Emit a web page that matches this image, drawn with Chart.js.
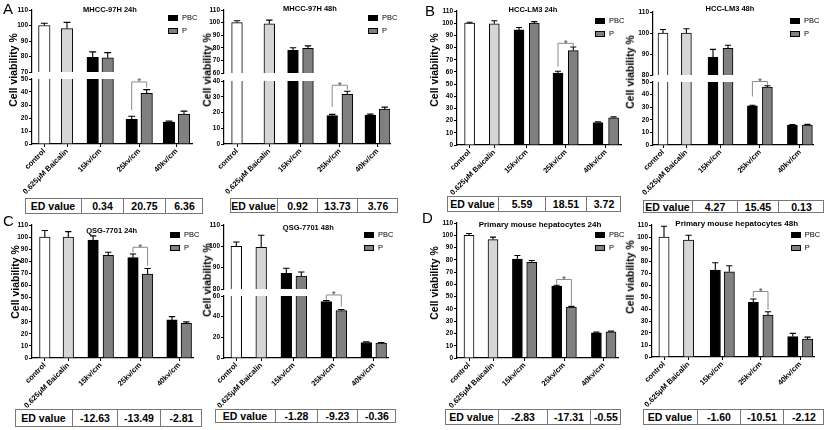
<!DOCTYPE html>
<html><head><meta charset="utf-8">
<script src="https://cdn.jsdelivr.net/npm/chart.js@4.4.1/dist/chart.umd.min.js"></script>
<style>
html,body{margin:0;padding:0;background:#fff;}
#fig{position:relative;width:825px;height:430px;overflow:hidden;background:#fff;font-family:"Liberation Sans",Arial,sans-serif;}
#fig canvas{position:absolute;}
.t{position:absolute;white-space:nowrap;color:#000;line-height:1;}
.tbl{position:absolute;box-sizing:border-box;border:1px solid #777;background:#fff;}
.cell{position:absolute;top:0;bottom:0;box-sizing:border-box;display:flex;align-items:center;justify-content:center;font-weight:bold;font-size:10.5px;color:#000;}
.box{position:absolute;box-sizing:border-box;border:1px solid #000;width:10px;height:6px;}
</style>
</head><body><div id="fig"></div>
<script>
// ================= DATA =================
const categories = ['control', '0.625\u03bcM Baicalin', '15kv/cm', '25kv/cm', '40kv/cm'];
const groupNames = ['PBC', 'P'];
const tableHeader = 'ED value';
const yAxisTitle = 'Cell viability %';
const panelTitles = ['MHCC-97H 24h', 'MHCC-97H 48h', 'HCC-LM3 24h', 'HCC-LM3 48h',
  'QSG-7701 24h', 'QSG-7701 48h', 'Primary mouse hepatocytes 24h', 'Primary mouse hepatocytes 48h'];

// [control, 0.625uM Baicalin] ; PBC / P for 15, 25, 40 kv/cm ; errors = upper SEM
const mhcc24Ctrl = [100, 98];      const mhcc24CtrlErr = [1.5, 4];
const mhcc24PBC = [79.5, 19, 16.8]; const mhcc24PBCErr = [3.5, 2.3, 0.8];
const mhcc24P = [79.2, 39, 23];     const mhcc24PErr = [3.3, 2.8, 2.3];
const mhcc24Sig = [47.7, 26, 43.4];           // bracket level, left end, right end
const mhcc24ED = ['0.34', '20.75', '6.36'];
const mhcc24Axis = [[70, 110, 10], [0, 50, 10]];

const mhcc48Ctrl = [100, 99];       const mhcc48CtrlErr = [1.5, 3];
const mhcc48PBC = [78, 18, 18.3];   const mhcc48PBCErr = [2, 0.8, 0.7];
const mhcc48P = [79.5, 31.5, 22.2]; const mhcc48PErr = [2, 2, 1.2];
const mhcc48Sig = [37.3, 23.6, 34.6];
const mhcc48ED = ['0.92', '13.73', '3.76'];
const mhcc48Axis = [[60, 110, 10], [0, 40, 10]];

const lm324Ctrl = [100, 99.5];      const lm324CtrlErr = [0.8, 2.5];
const lm324PBC = [94.5, 59, 18.5];  const lm324PBCErr = [2, 1.5, 0.5];
const lm324P = [100, 77.5, 22.3];   const lm324PErr = [1.3, 3, 0.8];
const lm324Sig = [83.5, 64.3, 81];
const lm324ED = ['5.59', '18.51', '3.72'];
const lm324Axis = [[0, 110, 10]];

const lm348Ctrl = [100, 100];       const lm348CtrlErr = [1.7, 2];
const lm348PBC = [88.5, 31, 15.8];  const lm348PBCErr = [3.7, 0.6, 0.5];
const lm348P = [92.7, 46, 15.8];    const lm348PErr = [1.5, 1, 0.6];
const lm348Sig = [50.4, 38.5, 47.8];
const lm348ED = ['4.27', '15.45', '0.13'];
const lm348Axis = [[80, 110, 10], [0, 50, 10]];

const qsg24Ctrl = [100, 100];       const qsg24CtrlErr = [5.5, 4.5];
const qsg24PBC = [97.5, 83, 31.5];  const qsg24PBCErr = [3.5, 3, 2.7];
const qsg24P = [85, 69.5, 28.7];    const qsg24PErr = [2.5, 4.5, 1.2];
const qsg24Sig = [91.6, 87.1, 76.2];
const qsg24ED = ['-12.63', '-13.49', '-2.81'];
const qsg24Axis = [[0, 110, 10]];

const qsg48Ctrl = [100, 99.5];      const qsg48CtrlErr = [2, 5.7];
const qsg48PBC = [87.3, 54.5, 15];  const qsg48PBCErr = [2.4, 1, 0.6];
const qsg48P = [86, 45.8, 14.5];    const qsg48PErr = [2, 1.2, 0.5];
const qsg48Sig = [61, 56.2, 49.7];
const qsg48ED = ['-1.28', '-9.23', '-0.36'];
const qsg48Axis = [[80, 110, 10], [0, 60, 20]];

const hep24Ctrl = [100, 96.5];      const hep24CtrlErr = [1.4, 2];
const hep24PBC = [80.5, 58.5, 20.5]; const hep24PBCErr = [3, 0.8, 0.6];
const hep24P = [78, 41.5, 21.3];    const hep24PErr = [1.4, 0.6, 0.6];
const hep24Sig = [64, 60, 42.8];
const hep24ED = ['-2.83', '-17.31', '-0.55'];
const hep24Axis = [[0, 110, 10]];

const hep48Ctrl = [100, 97.5];      const hep48CtrlErr = [9, 4];
const hep48PBC = [72.5, 45.5, 17];  const hep48PBCErr = [6, 2.8, 2.7];
const hep48P = [71, 35, 15];        const hep48PErr = [5, 2.7, 1.6];
const hep48Sig = [54.6, 49.9, 39.3];
const hep48ED = ['-1.60', '-10.51', '-2.12'];
const hep48Axis = [[0, 110, 10]];

const panelData = [
  [mhcc24Ctrl, mhcc24CtrlErr, mhcc24PBC, mhcc24PBCErr, mhcc24P, mhcc24PErr, mhcc24Sig, mhcc24ED, mhcc24Axis],
  [mhcc48Ctrl, mhcc48CtrlErr, mhcc48PBC, mhcc48PBCErr, mhcc48P, mhcc48PErr, mhcc48Sig, mhcc48ED, mhcc48Axis],
  [lm324Ctrl, lm324CtrlErr, lm324PBC, lm324PBCErr, lm324P, lm324PErr, lm324Sig, lm324ED, lm324Axis],
  [lm348Ctrl, lm348CtrlErr, lm348PBC, lm348PBCErr, lm348P, lm348PErr, lm348Sig, lm348ED, lm348Axis],
  [qsg24Ctrl, qsg24CtrlErr, qsg24PBC, qsg24PBCErr, qsg24P, qsg24PErr, qsg24Sig, qsg24ED, qsg24Axis],
  [qsg48Ctrl, qsg48CtrlErr, qsg48PBC, qsg48PBCErr, qsg48P, qsg48PErr, qsg48Sig, qsg48ED, qsg48Axis],
  [hep24Ctrl, hep24CtrlErr, hep24PBC, hep24PBCErr, hep24P, hep24PErr, hep24Sig, hep24ED, hep24Axis],
  [hep48Ctrl, hep48CtrlErr, hep48PBC, hep48PBCErr, hep48P, hep48PErr, hep48Sig, hep48ED, hep48Axis]
];

// ================= LAYOUT (pixels) =================
const FF = '"Liberation Sans", Arial, sans-serif';
const LAYOUT = [
  {letter:'A', lp:[3,1], ox:32, xEnd:192, segs:[[10,72.3],[78.7,144]], bars:[12.3,35,60.7,75.7,99.7,114.7,137,152], bw:11.5,
   title:[110,10,7.5], ylab:[13,70], legend:[168,15], table:[[25,81,123,165,203],198,214]},
  {ox:224, xEnd:390, segs:[[10,73.3],[80.7,144]], bars:[13,45.3,69,84,108.2,123.3,146.3,160.7], bw:10.7,
   title:[310,9,7.5], ylab:[207,70], legend:[368,15], table:[[230,277,317,357,398],198,213]},
  {letter:'B', lp:[425,3], ox:456.7, xEnd:621, segs:[[11,145]], bars:[12.6,37.3,62,77.3,101,116.3,141,156.6], bw:10,
   title:[533,10,7.5], ylab:[434,70], legend:[595,18], table:[[447,498,545,586,621],196,212]},
  {ox:653.3, xEnd:814, segs:[[11.7,75],[82.3,145]], bars:[10,33.4,60,75,99.4,114.4,139.4,154.4], bw:10,
   title:[730,9,7.5], ylab:[630,72], legend:[790,18], table:[[643,692,737,778,824],200,213]},
  {letter:'C', lp:[3,213], ox:31.7, xEnd:193, segs:[[225,358.3]], bars:[12.8,36.3,61.1,76.3,101,115.6,140,154.3], bw:10.5,
   title:[111.7,231,7.5], ylab:[15,282], legend:[170,232], table:[[15,72,117,160,202],409,427]},
  {ox:224, xEnd:388, segs:[[225,289],[296,358.3]], bars:[12.3,37.2,62.3,77.3,102.3,117.3,142.3,157.2], bw:10.7,
   title:[308.3,228,7.5], ylab:[207,280], legend:[364,232], table:[[215,275,317,357,396],409,423]},
  {letter:'D', lp:[422,210], ox:457.3, xEnd:619, segs:[[223,357.7]], bars:[12,36,60.4,74.7,99.7,114.4,139.4,154], bw:10,
   title:[540,225,8], ylab:[434,283], legend:[595,232], table:[[445,498,547,590,621],409,425]},
  {ox:651.7, xEnd:814, segs:[[225,357.3]], bars:[12,36.6,63.3,77.3,101.3,116,140.8,155.6], bw:10.3,
   title:[736.7,224,8], ylab:[630,277], legend:[790.7,232], table:[[643,697,740,783,824],409,425]}
];

const fig = document.getElementById('fig');
function addText(txt, css) {
  const d = document.createElement('div');
  d.className = 't'; d.textContent = txt;
  Object.assign(d.style, css);
  fig.appendChild(d);
  return d;
}

const errPlugin = {
  id: 'errBars',
  afterDatasetsDraw(chart) {
    const {ctx, chartArea: a} = chart;
    const y = chart.scales.y;
    ctx.save();
    ctx.beginPath();
    ctx.rect(a.left - 3, a.top - 0.5, a.right - a.left + 6, a.bottom - a.top + 0.5);
    ctx.clip();
    ctx.strokeStyle = '#000';
    ctx.lineWidth = 1.1;
    chart.data.datasets.forEach((ds, di) => {
      const meta = chart.getDatasetMeta(di);
      meta.data.forEach((bar, i) => {
        const v = ds.data[i].y, e = ds.errs[i];
        const y0 = y.getPixelForValue(v), y1 = y.getPixelForValue(v + e);
        const cw = bar.width * 0.6;
        ctx.beginPath();
        ctx.moveTo(bar.x, y0); ctx.lineTo(bar.x, y1);
        ctx.moveTo(bar.x - cw / 2, y1); ctx.lineTo(bar.x + cw / 2, y1);
        ctx.stroke();
      });
    });
    ctx.restore();
  }
};

function bracketPlugin(sig) {
  return {
    id: 'sigBracket',
    afterDraw(chart) {
      const {ctx} = chart;
      const y = chart.scales.y;
      const xl = chart.getDatasetMeta(2).data[1].x;
      const xr = chart.getDatasetMeta(3).data[1].x;
      const yt = y.getPixelForValue(sig[0]);
      const yl = y.getPixelForValue(sig[1]);
      const yr = y.getPixelForValue(sig[2]);
      ctx.save();
      ctx.strokeStyle = '#8a8a8a';
      ctx.lineWidth = 1;
      ctx.beginPath();
      ctx.moveTo(xl, yl); ctx.lineTo(xl, yt); ctx.lineTo(xr, yt); ctx.lineTo(xr, yr);
      ctx.stroke();
      ctx.fillStyle = '#6e6e6e';
      ctx.font = 'bold 9px ' + FF;
      ctx.textAlign = 'center';
      ctx.textBaseline = 'alphabetic';
      ctx.fillText('*', (xl + xr) / 2, yt + 2.5);
      ctx.restore();
    }
  };
}

const LEFTW = 40, PADT = 10, XH = 62;

panelData.forEach((pd, k) => {
  const [ctrl, ctrlErr, pbc, pbcErr, pv, pErr, sig, ed, axes] = pd;
  const L = LAYOUT[k];
  const plotW = L.xEnd - L.ox;
  const b = L.bars;
  const tickPos = [b[0], b[1], (b[2] + b[3]) / 2, (b[4] + b[5]) / 2, (b[6] + b[7]) / 2];

  axes.forEach((ax, s) => {
    const isBottom = s === axes.length - 1;
    const [top, bottom] = L.segs[s];
    const plotH = bottom - top;
    const padB = isBottom ? 0 : 6;
    const w = Math.ceil(LEFTW + plotW + 10);
    const padR = w - LEFTW - plotW;
    const h = Math.round(PADT + plotH + padB + (isBottom ? XH : 0));
    const cv = document.createElement('canvas');
    cv.width = w; cv.height = h;
    cv.style.left = (L.ox - LEFTW) + 'px';
    cv.style.top = (top - PADT) + 'px';
    cv.style.width = w + 'px'; cv.style.height = h + 'px';
    fig.appendChild(cv);

    const common = {borderColor: '#000', borderWidth: 1, barThickness: L.bw, grouped: false, clip: 0};
    const datasets = [
      Object.assign({label: categories[0], data: [{x: b[0], y: ctrl[0]}], errs: [ctrlErr[0]], backgroundColor: '#ffffff'}, common),
      Object.assign({label: categories[1], data: [{x: b[1], y: ctrl[1]}], errs: [ctrlErr[1]], backgroundColor: '#d6d6d6'}, common),
      Object.assign({label: groupNames[0], data: pbc.map((v, i) => ({x: b[2 + 2 * i], y: v})), errs: pbcErr, backgroundColor: '#000000'}, common),
      Object.assign({label: groupNames[1], data: pv.map((v, i) => ({x: b[3 + 2 * i], y: v})), errs: pErr, backgroundColor: '#808080'}, common)
    ];

    new Chart(cv, {
      type: 'bar',
      data: {datasets},
      options: {
        responsive: false, animation: false, events: [],
        layout: {padding: {top: PADT, right: padR, bottom: padB, left: 0}},
        plugins: {legend: {display: false}, tooltip: {enabled: false}},
        scales: {
          x: {
            type: 'linear', min: 0, max: plotW, bounds: 'data', offset: false, display: isBottom,
            afterBuildTicks: a => { a.ticks = tickPos.map(v => ({value: v})); },
            afterFit: a => { a.height = isBottom ? XH : 0; },
            grid: {display: true, drawOnChartArea: false, drawTicks: true, tickLength: 3, color: '#000', lineWidth: 1, offset: false},
            border: {display: true, color: '#000', width: 1.2},
            ticks: {autoSkip: false, maxRotation: 45, minRotation: 45, padding: 0, color: '#000',
              font: {family: FF, size: 7.5, weight: 'bold'}, callback: (v, i) => categories[i]}
          },
          y: {
            type: 'linear', min: ax[0], max: ax[1],
            afterFit: a => { a.width = LEFTW; },
            grid: {display: true, drawOnChartArea: false, drawTicks: true, tickLength: 3, color: '#000', lineWidth: 1},
            border: {display: true, color: '#000', width: 1.2},
            ticks: {stepSize: ax[2], padding: 1, color: '#000', font: {family: FF, size: 6.5, weight: 'bold'}}
          }
        }
      },
      plugins: isBottom ? [errPlugin, bracketPlugin(sig)] : [errPlugin]
    });
  });

  addText(panelTitles[k], {left: L.title[0] + 'px', top: L.title[1] + 'px', transform: 'translate(-50%,-50%)',
    fontWeight: 'bold', fontSize: L.title[2] + 'px'});
  addText(yAxisTitle, {left: L.ylab[0] + 'px', top: L.ylab[1] + 'px', transform: 'translate(-50%,-50%) rotate(-90deg)',
    fontWeight: 'bold', fontSize: '10.5px'});
  if (L.letter) addText(L.letter, {left: L.lp[0] + 'px', top: L.lp[1] + 'px', fontSize: '15px'});
  const fills = ['#000', '#808080'];
  groupNames.forEach((g, i) => {
    const bx = document.createElement('div');
    bx.className = 'box';
    bx.style.left = L.legend[0] + 'px';
    bx.style.top = (L.legend[1] + i * 12.5) + 'px';
    bx.style.background = fills[i];
    fig.appendChild(bx);
    addText(g, {left: (L.legend[0] + 14) + 'px', top: (L.legend[1] + 3 + i * 12.5) + 'px', transform: 'translateY(-50%)', fontSize: '7.5px'});
  });
  const [cols, tt, tb] = L.table;
  const tbl = document.createElement('div');
  tbl.className = 'tbl';
  Object.assign(tbl.style, {left: cols[0] + 'px', top: tt + 'px', width: (cols[4] - cols[0]) + 'px', height: (tb - tt) + 'px'});
  const cells = [tableHeader].concat(ed);
  cells.forEach((c, i) => {
    const d = document.createElement('div');
    d.className = 'cell';
    d.textContent = c;
    d.style.left = (cols[i] - cols[0] - 1) + 'px';
    d.style.width = (cols[i + 1] - cols[i]) + 'px';
    if (i > 0) d.style.borderLeft = '1px solid #777';
    tbl.appendChild(d);
  });
  fig.appendChild(tbl);
});
</script>
</body></html>
